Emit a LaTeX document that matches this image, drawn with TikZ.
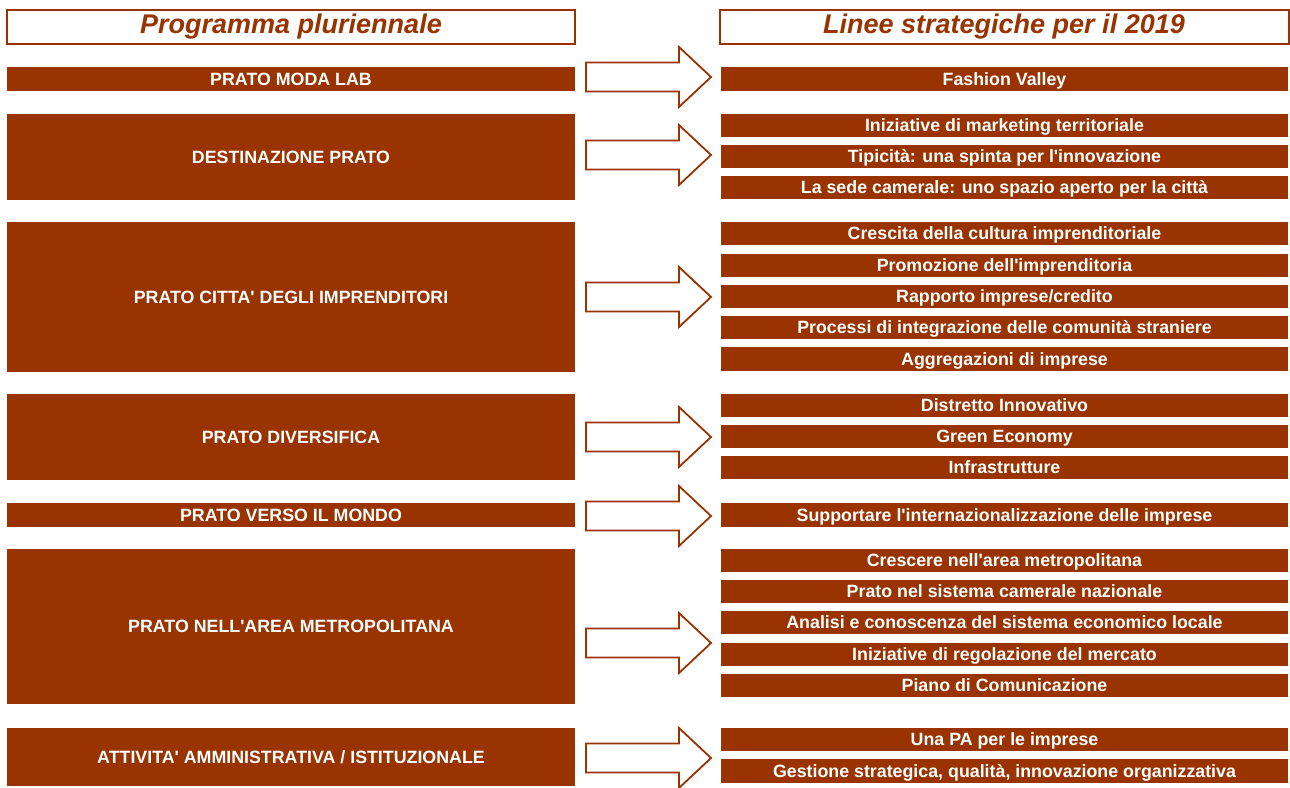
\documentclass[tikz,border=0pt]{standalone}
\usepackage{fontspec}
\setmainfont{Liberation Sans}[Ligatures=TeXOff]
\definecolor{brick}{HTML}{993300}
\begin{document}
\begin{tikzpicture}[x=1pt,y=-1pt,
  hdr/.style={draw=brick,line width=2pt,fill=white,text=brick,inner sep=0pt,
    font=\fontsize{27}{29}\selectfont\bfseries\itshape},
  lbox/.style={fill=brick,text=white,inner sep=0pt,minimum width=568pt,
    text height=14pt,text depth=1.2pt,
    font=\fontsize{17.8}{19}\selectfont\bfseries},
  rbox/.style={fill=brick,text=white,inner sep=0pt,minimum width=567pt,minimum height=23.5pt,
    text height=14pt,text depth=1.2pt,
    font=\fontsize{17.8}{19}\selectfont\bfseries},
  barrow/.pic={\draw[draw=brick,line width=1.8pt,fill=white,line join=miter]
     (0,-14.5) -- (93,-14.5) -- (93,-30) -- (125,0) -- (93,30) -- (93,14.5) -- (0,14.5) -- cycle;}
]
\useasboundingbox (0,0) rectangle (1290,787);
% headers
\node[hdr,minimum width=568pt,minimum height=34pt] (hl) at (291,27) {Programma pluriennale};
\node[hdr,minimum width=569pt,minimum height=34pt] (hr) at (1004,27) {Linee strategiche per il 2019};
% left boxes
\node[lbox,minimum height=24pt] (l1) at (291,79) {PRATO MODA LAB};
\node[lbox,minimum height=86pt] (l2) at (291,157) {DESTINAZIONE PRATO};
\node[lbox,minimum height=150pt] (l3) at (291,297) {PRATO CITTA' DEGLI IMPRENDITORI};
\node[lbox,minimum height=86pt] (l4) at (291,437) {PRATO DIVERSIFICA};
\node[lbox,minimum height=24pt] (l5) at (291,515) {PRATO VERSO IL MONDO};
\node[lbox,minimum height=155pt] (l6) at (291,626.5) {PRATO NELL'AREA METROPOLITANA};
\node[lbox,minimum height=58pt] (l7) at (291,757) {ATTIVITA' AMMINISTRATIVA / ISTITUZIONALE};
% right boxes
\node[rbox] (r1) at (1004.5,79) {Fashion Valley};
\node[rbox] (r2) at (1004.5,125.5) {Iniziative di marketing territoriale};
\node[rbox] (r3) at (1004.5,156.5) {Tipicità: una spinta per l'innovazione};
\node[rbox] (r4) at (1004.5,187.5) {La sede camerale: uno spazio aperto per la città};
\node[rbox] (r5) at (1004.5,233.5) {Crescita della cultura imprenditoriale};
\node[rbox] (r6) at (1004.5,265.5) {Promozione dell'imprenditoria};
\node[rbox] (r7) at (1004.5,296.5) {Rapporto imprese/credito};
\node[rbox] (r8) at (1004.5,327.5) {Processi di integrazione delle comunità straniere};
\node[rbox] (r9) at (1004.5,359) {Aggregazioni di imprese};
\node[rbox] (r10) at (1004.5,405.5) {Distretto Innovativo};
\node[rbox] (r11) at (1004.5,436.5) {Green Economy};
\node[rbox] (r12) at (1004.5,467.5) {Infrastrutture};
\node[rbox] (r13) at (1004.5,515) {Supportare l'internazionalizzazione delle imprese};
\node[rbox] (r14) at (1004.5,560.5) {Crescere nell'area metropolitana};
\node[rbox] (r15) at (1004.5,591.5) {Prato nel sistema camerale nazionale};
\node[rbox] (r16) at (1004.5,622.5) {Analisi e conoscenza del sistema economico locale};
\node[rbox] (r17) at (1004.5,654.5) {Iniziative di regolazione del mercato};
\node[rbox] (r18) at (1004.5,685.5) {Piano di Comunicazione};
\node[rbox] (r19) at (1004.5,739.5) {Una PA per le imprese};
\node[rbox] (r20) at (1004.5,771) {Gestione strategica, qualità, innovazione organizzativa};
% block arrows
\pic at (586,77) {barrow};
\pic at (586,155) {barrow};
\pic at (586,297) {barrow};
\pic at (586,437) {barrow};
\pic at (586,516) {barrow};
\pic at (586,643) {barrow};
\pic at (586,758) {barrow};
\end{tikzpicture}
\end{document}
